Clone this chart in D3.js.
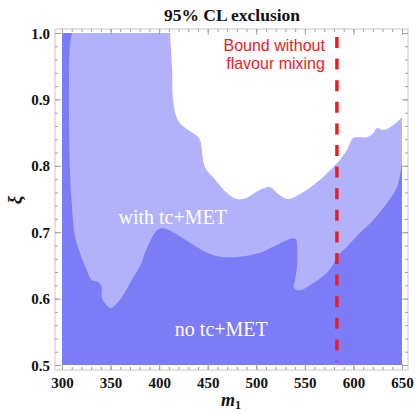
<!DOCTYPE html>
<html>
<head>
<meta charset="utf-8">
<script src="https://cdn.jsdelivr.net/npm/d3@7"></script>
<style>
  html, body { margin: 0; padding: 0; background: #fff; }
  svg { display: block; }
</style>
</head>
<body>
<svg id="chart" width="416" height="414"></svg>
<script>
// Excluded region boundaries in the (m1, xi) plane
// with tc+MET search included: lower edge of the allowed (white) region
const withTcMetBoundary = [
  [411.2, 1.000], [413.2, 0.950], [414.3, 0.900], [417.4, 0.875], [421.5, 0.864],
  [431.8, 0.852], [439.0, 0.845], [442.1, 0.839], [447.2, 0.798], [455.4, 0.783],
  [469.9, 0.759], [480.2, 0.750], [490.4, 0.752], [503.8, 0.764], [514.1, 0.768],
  [521.3, 0.759], [531.6, 0.750], [537.8, 0.752], [552.2, 0.764], [565.6, 0.779],
  [579.0, 0.798], [586.2, 0.809], [593.4, 0.824], [596.5, 0.834], [599.6, 0.842],
  [606.8, 0.843], [614.0, 0.843], [620.2, 0.849], [624.3, 0.857], [630.5, 0.854],
  [637.7, 0.858], [644.9, 0.866], [650.0, 0.873]
];
// without tc+MET: upper edge of the excluded region
const noTcMetBoundary = [
  [310.3, 1.000], [308.2, 0.982], [307.2, 0.929], [308.2, 0.794], [310.0, 0.744],
  [313.4, 0.693], [318.5, 0.669], [325.4, 0.643], [330.6, 0.628], [337.1, 0.625],
  [340.9, 0.617], [340.9, 0.602], [344.3, 0.593], [349.4, 0.586], [352.5, 0.587],
  [361.5, 0.602], [371.8, 0.628], [382.0, 0.654], [385.4, 0.669], [397.8, 0.703],
  [404.0, 0.706], [414.3, 0.700], [431.8, 0.684], [449.3, 0.669], [462.7, 0.663],
  [483.2, 0.663], [503.8, 0.669], [517.2, 0.678], [531.6, 0.688], [537.8, 0.691],
  [541.0, 0.689], [542.2, 0.672], [541.9, 0.648], [539.9, 0.628], [538.5, 0.617],
  [541.9, 0.613], [548.1, 0.614], [558.4, 0.623], [572.8, 0.639], [579.0, 0.651],
  [583.1, 0.663], [593.4, 0.678], [606.8, 0.699], [620.2, 0.718], [634.6, 0.744],
  [644.9, 0.768], [650.0, 0.804]
];
const boundWithoutMixing = 583;
const xDomain = [300, 650];
const yDomain = [0.5, 1.0];
const xMajorTicks = [300, 350, 400, 450, 500, 550, 600, 650];
const yMajorTicks = [0.5, 0.6, 0.7, 0.8, 0.9, 1.0];
const xMinorTicks = d3.range(300, 651, 10);
const yMinorTicks = d3.range(0, 26).map(i => 0.5 + i * 0.02);
const regionLabels = [
  { text: "with tc+MET", m1: 414, xi: 0.713 },
  { text: "no tc+MET", m1: 464, xi: 0.543 }
];

const svg = d3.select("#chart");
const x = d3.scaleLinear().domain(xDomain).range([62, 402]);
const y = d3.scaleLinear().domain(yDomain).range([365, 33]);
const frame = { left: 55, right: 408, top: 29, bottom: 370 };

const lightBlue = "rgb(178,178,250)";
const darkBlue = "rgb(124,124,246)";

const line = d3.line().x(d => x(d[0])).y(d => y(d[1])).curve(d3.curveCatmullRom.alpha(0.5));

// light region: everything below the with-tc+MET boundary
const lightPath = "M" + x(300) + "," + y(1.0) + "L" +
  line(withTcMetBoundary).slice(1) +
  "L" + x(650) + "," + y(0.5) + "L" + x(300) + "," + y(0.5) + "Z";
svg.append("path").attr("d", lightPath).attr("fill", lightBlue);

// dark region: below the no-tc+MET boundary
const darkPath = "M" + x(300) + "," + y(1.0) + "L" +
  line(noTcMetBoundary).slice(1) +
  "L" + x(650) + "," + y(0.5) + "L" + x(300) + "," + y(0.5) + "Z";
svg.append("path").attr("d", darkPath).attr("fill", darkBlue);

// region labels
svg.selectAll("text.region").data(regionLabels).join("text")
  .attr("class", "region")
  .attr("x", d => x(d.m1)).attr("y", d => y(d.xi))
  .attr("text-anchor", "middle")
  .attr("font-family", "'Liberation Serif', 'Times New Roman', serif")
  .attr("font-size", 20)
  .attr("fill", "#ffffff")
  .text(d => d.text);

// bound without flavour mixing
svg.append("line")
  .attr("x1", x(boundWithoutMixing)).attr("x2", x(boundWithoutMixing))
  .attr("y1", y(0.994)).attr("y2", y(0.505))
  .attr("stroke", "#ec1c24").attr("stroke-width", 3.5)
  .attr("stroke-dasharray", "11,10.6");

const boundText = svg.append("text")
  .attr("x", x(boundWithoutMixing) - 12)
  .attr("y", 50.5)
  .attr("text-anchor", "end")
  .attr("font-family", "'Liberation Sans', Arial, sans-serif")
  .attr("font-size", 16)
  .attr("fill", "#ec1c24");
boundText.append("tspan").attr("x", x(boundWithoutMixing) - 12).text("Bound without");
boundText.append("tspan").attr("x", x(boundWithoutMixing) - 12).attr("dy", 18.5).text("flavour mixing");

// frame
svg.append("rect")
  .attr("x", frame.left).attr("y", frame.top)
  .attr("width", frame.right - frame.left).attr("height", frame.bottom - frame.top)
  .attr("fill", "none").attr("stroke", "#c8c8c8").attr("stroke-width", 1);

const tickColor = "#a0a0a0";
const labelFont = "'Liberation Serif', 'Times New Roman', serif";

function styleAxis(g) {
  g.select(".domain").remove();
  g.selectAll(".tick line").attr("stroke", tickColor);
}

// bottom axis
svg.append("g").attr("transform", `translate(0,${frame.bottom})`)
  .call(d3.axisBottom(x).tickValues(xMinorTicks).tickSize(-3).tickFormat(""))
  .call(styleAxis);
const xAxis = svg.append("g").attr("transform", `translate(0,${frame.bottom})`)
  .call(d3.axisBottom(x).tickValues(xMajorTicks).tickSize(-6).tickFormat(d3.format("d")))
  .call(styleAxis);
xAxis.selectAll(".tick text")
  .attr("y", 18).attr("dy", 0)
  .attr("font-family", labelFont).attr("font-weight", "bold")
  .attr("font-size", 15).attr("fill", "#111");

// top axis (ticks only)
svg.append("g").attr("transform", `translate(0,${frame.top})`)
  .call(d3.axisTop(x).tickValues(xMinorTicks).tickSize(-3).tickFormat(""))
  .call(styleAxis);
svg.append("g").attr("transform", `translate(0,${frame.top})`)
  .call(d3.axisTop(x).tickValues(xMajorTicks).tickSize(-6).tickFormat(""))
  .call(styleAxis);

// left axis
svg.append("g").attr("transform", `translate(${frame.left},0)`)
  .call(d3.axisLeft(y).tickValues(yMinorTicks).tickSize(-3).tickFormat(""))
  .call(styleAxis);
const yAxis = svg.append("g").attr("transform", `translate(${frame.left},0)`)
  .call(d3.axisLeft(y).tickValues(yMajorTicks).tickSize(-6).tickFormat(d3.format(".1f")))
  .call(styleAxis);
yAxis.selectAll(".tick text")
  .attr("x", -5).attr("dy", "0.34em")
  .attr("font-family", labelFont).attr("font-weight", "bold")
  .attr("font-size", 15).attr("fill", "#111");

// right axis (ticks only)
svg.append("g").attr("transform", `translate(${frame.right},0)`)
  .call(d3.axisRight(y).tickValues(yMinorTicks).tickSize(-3).tickFormat(""))
  .call(styleAxis);
svg.append("g").attr("transform", `translate(${frame.right},0)`)
  .call(d3.axisRight(y).tickValues(yMajorTicks).tickSize(-6).tickFormat(""))
  .call(styleAxis);

// title
svg.append("text")
  .attr("x", (x(300) + x(650)) / 2).attr("y", 21)
  .attr("text-anchor", "middle")
  .attr("font-family", labelFont).attr("font-weight", "bold")
  .attr("font-size", 17.5).attr("fill", "#111")
  .text("95% CL exclusion");

// axis titles
const xTitle = svg.append("text")
  .attr("x", 231).attr("y", 406)
  .attr("text-anchor", "middle")
  .attr("font-family", labelFont).attr("font-weight", "bold").attr("font-style", "italic")
  .attr("font-size", 18).attr("fill", "#111");
xTitle.append("tspan").text("m");
xTitle.append("tspan").attr("font-size", 12).attr("font-style", "normal").attr("dy", 3).text("1");

svg.append("text")
  .attr("transform", "translate(21,200) rotate(-90)")
  .attr("text-anchor", "middle")
  .attr("font-family", labelFont).attr("font-weight", "bold").attr("font-style", "italic")
  .attr("font-size", 19).attr("fill", "#111")
  .text("ξ");
</script>
</body>
</html>
